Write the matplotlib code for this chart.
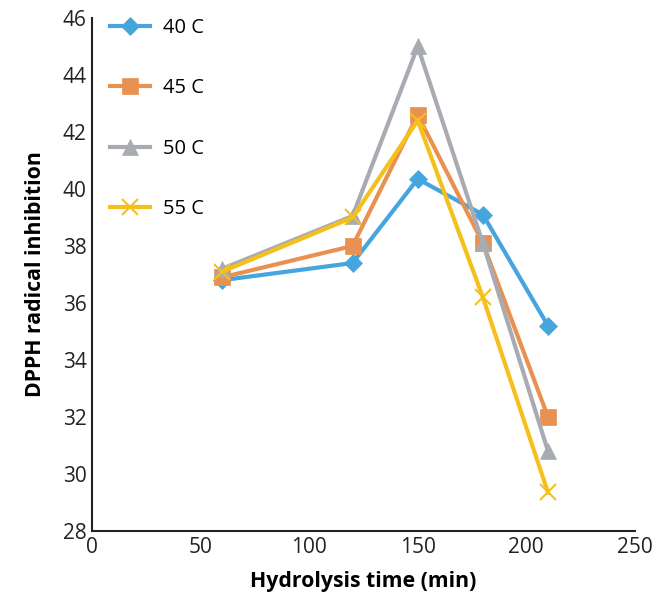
import matplotlib
matplotlib.use('Agg')
import matplotlib.pyplot as plt

# hydrolysis time (min)
times = [60, 120, 150, 180, 210]

# DPPH radical inhibition at each temperature
t40 = [36.8, 37.4, 40.35, 39.1, 35.2]
t45 = [36.9, 38.0, 42.6, 38.1, 32.0]
t50 = [37.2, 39.05, 45.0, 38.1, 30.8]
t55 = [37.1, 39.0, 42.4, 36.2, 29.35]

labels = ['40 C', '45 C', '50 C', '55 C']
colors = ['#45A5DC', '#E89150', '#A8ACB2', '#F5C01C']
markers = ['D', 's', '^', 'x']

plt.rcParams['font.family'] = ['Open Sans', 'DejaVu Sans']

fig = plt.figure(figsize=(6.62, 5.97), dpi=100)
ax = fig.add_axes([0.139, 0.1106, 0.82, 0.8594])

for ys, lab, c, m in zip([t40, t45, t50, t55], labels, colors, markers):
    ms = 11 if m in ('s', '^') else 9
    if m == 'x':
        ms = 12
    ax.plot(times, ys, color=c, lw=3, marker=m, markersize=ms,
            markeredgewidth=1.5 if m == 'x' else 0.5, label=lab,
            solid_joinstyle='miter')

ax.set_xlim(0, 250)
ax.set_ylim(28, 46)
ax.set_xticks(range(0, 251, 50))
ax.set_yticks(range(28, 47, 2))
ax.tick_params(length=0, labelsize=15, colors='#222222', pad=4)
for s in ['top', 'right']:
    ax.spines[s].set_visible(False)
for s in ['left', 'bottom']:
    ax.spines[s].set_linewidth(1.5)
    ax.spines[s].set_color('#222222')

ax.set_xlabel('Hydrolysis time (min)', fontsize=15.3, fontweight='bold', labelpad=10)
ax.set_ylabel('DPPH radical inhibition', fontsize=15.3, fontweight='bold', labelpad=12)

ax.legend(loc='upper left', bbox_to_anchor=(0.0, 1.035), frameon=False,
          fontsize=14.5, labelspacing=2.0, handlelength=2.0, handletextpad=0.6)

fig.savefig('out.png', dpi=100)
